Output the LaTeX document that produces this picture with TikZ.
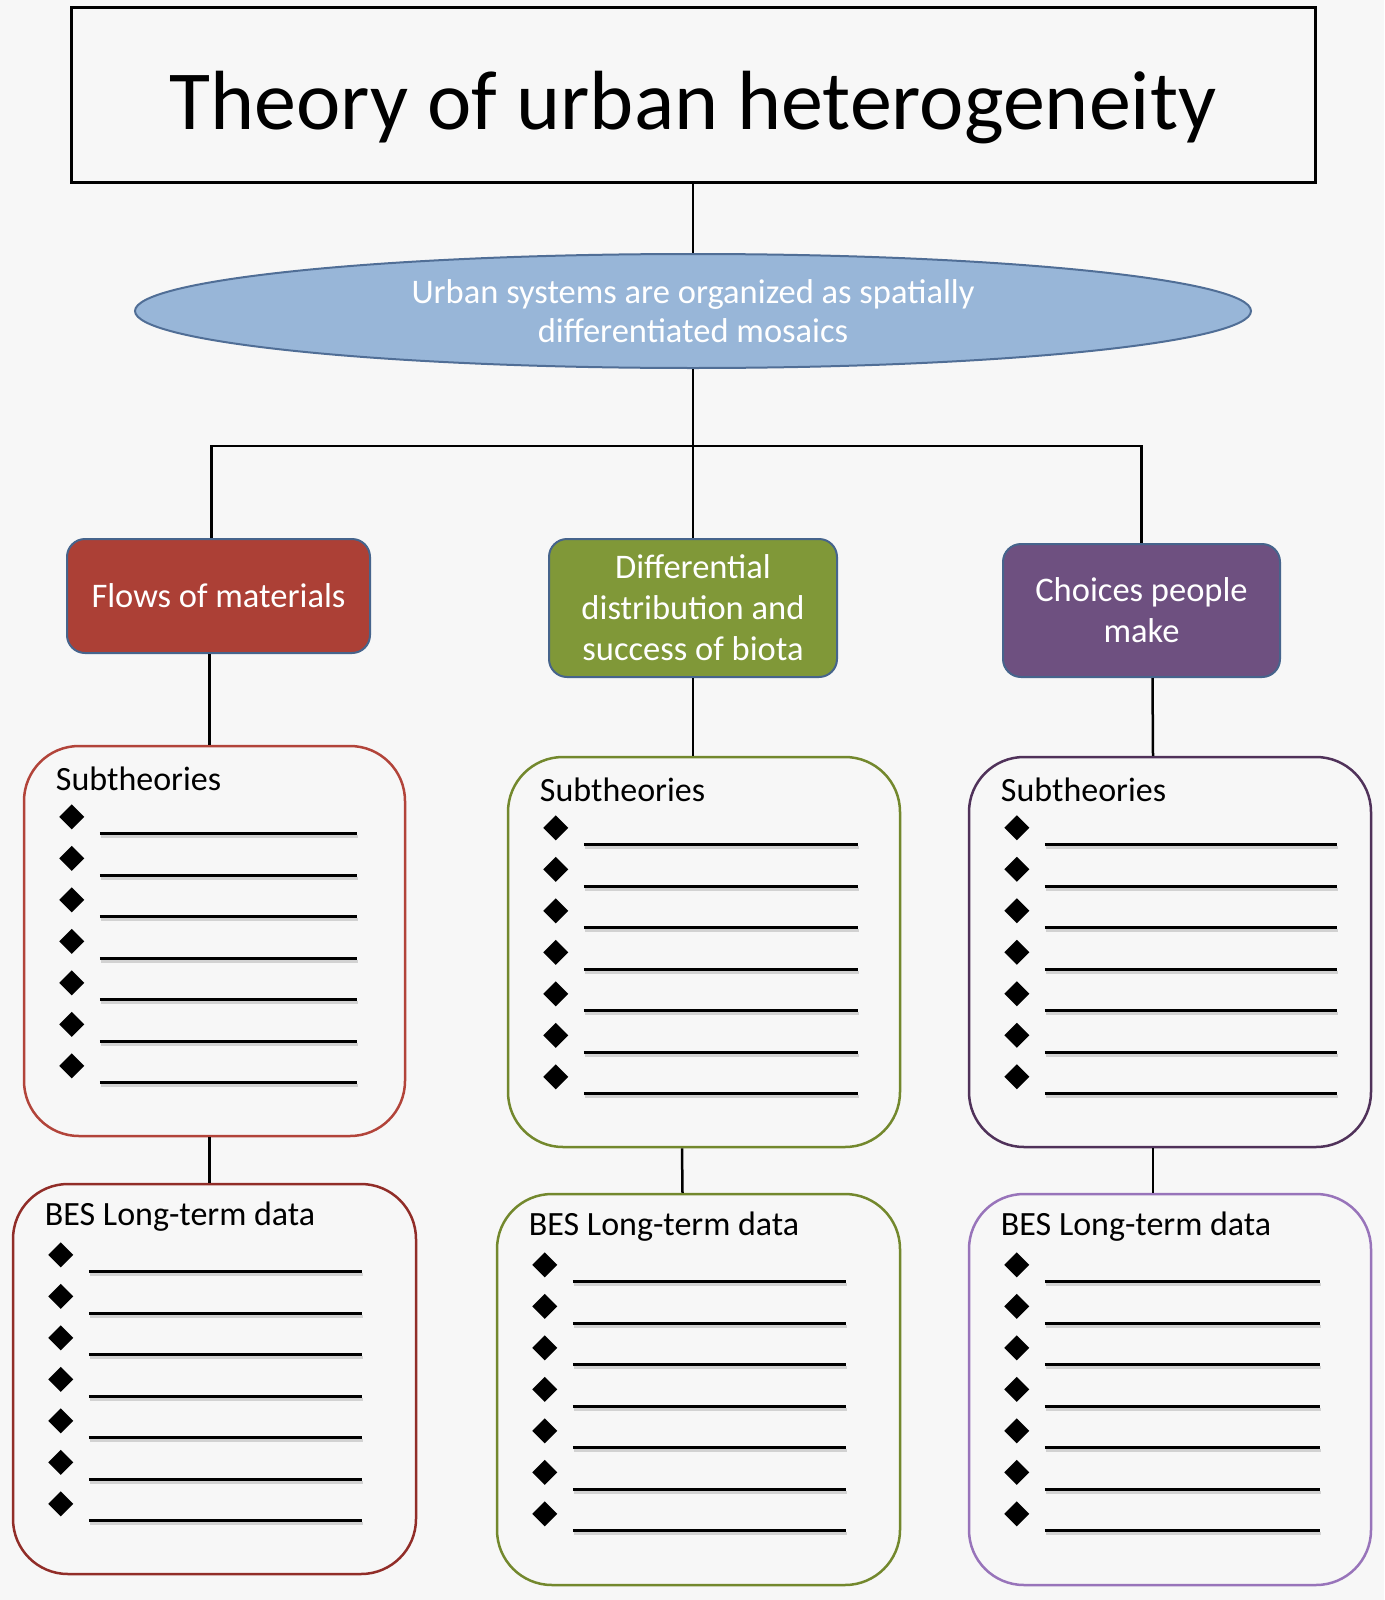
\documentclass[tikz,border=0pt]{standalone}
\usepackage{fontspec}
\setmainfont{Carlito}
\usetikzlibrary{positioning,shapes.geometric}

\definecolor{bgray}{RGB}{247,247,247}
\definecolor{redfill}{RGB}{172,64,54}
\definecolor{greenfill}{RGB}{128,152,56}
\definecolor{purplefill}{RGB}{110,80,128}
\definecolor{ellfill}{RGB}{152,182,216}
\definecolor{ellline}{RGB}{80,110,150}
\definecolor{headline}{RGB}{70,100,140}
\definecolor{redline}{RGB}{178,68,58}
\definecolor{redlinedark}{RGB}{145,45,40}
\definecolor{greenline}{RGB}{115,136,45}
\definecolor{purplelinedark}{RGB}{80,50,90}
\definecolor{purplelinelight}{RGB}{152,116,186}

\begin{document}
\begin{tikzpicture}[
  x=1pt,y=-1pt,
  titlebox/.style={draw,line width=3pt,minimum width=1244,minimum height=174,inner sep=0pt,text height=68pt,text depth=0pt,font=\fontsize{84}{100}\selectfont},
  mosaic/.style={ellipse,draw=ellline,line width=2pt,fill=ellfill,minimum width=1116,minimum height=114,inner sep=0pt,align=center,text=white,font=\fontsize{34.5}{39}\selectfont},
  head/.style={draw=headline,line width=2pt,rounded corners=18pt,inner sep=0pt,align=center,text=white,font=\fontsize{34.5}{41}\selectfont},
  listbox/.style={draw,line width=2.5pt,rounded corners=55pt,fill=bgray,inner sep=0pt},
  listtitle/.style={anchor=west,inner sep=0pt,font=\fontsize{34}{38}\selectfont},
  conn/.style={line width=2.5pt},
  blank/.style={line width=2.6pt}
]
\fill[bgray] (0,0) rectangle (1384,1600);
\useasboundingbox (0,0) rectangle (1384,1600);

\node[titlebox] (theory) at (693,95) {Theory of urban heterogeneity};
\node[mosaic] (mosaics) at (693,311) {Urban systems are organized as spatially\\differentiated mosaics};

\node[head,fill=redfill,minimum width=303,minimum height=114] (flows) at (218.5,596) {Flows of materials};
\node[head,fill=greenfill,minimum width=288,minimum height=138] (biota) at (693,608) {Differential\\distribution and\\success of biota};
\node[head,fill=purplefill,minimum width=277,minimum height=133] (choices) at (1141.5,610.5) {Choices people\\make};

\node[listbox,draw=redline,minimum width=381,minimum height=390] (flowssub) at (214.5,941) {};
\node[listbox,draw=greenline,minimum width=392,minimum height=390] (biotasub) at (704,952) {};
\node[listbox,draw=purplelinedark,minimum width=402,minimum height=390] (choicessub) at (1170,952) {};
\node[listbox,draw=redlinedark,minimum width=403,minimum height=390] (flowsdata) at (214.5,1379) {};
\node[listbox,draw=greenline,minimum width=403,minimum height=391] (biotadata) at (698.5,1389.5) {};
\node[listbox,draw=purplelinelight,minimum width=402,minimum height=391] (choicesdata) at (1170,1389.5) {};

% titles and blanks of the lists
\foreach \b/\t/\len in {flowssub/Subtheories/257, biotasub/Subtheories/274, choicessub/Subtheories/292,
                        flowsdata/BES Long-term data/273, biotadata/BES Long-term data/273, choicesdata/BES Long-term data/275}{
  \node[listtitle] (\b-title) at ([xshift=33,yshift=-34]\b.north west) {\t};
  \begin{scope}[shift={(\b.north west)}]
    \foreach \i in {0,...,6}{
      \fill (49,72+41.5*\i) +(-12.5,0) -- +(0,-12.5) -- +(12.5,0) -- +(0,12.5) -- cycle;
      \draw[blank,gray!35] (78,92+41.5*\i) -- ++(\len,0);
      \draw[blank] (77,89+41.5*\i) -- ++(\len,0);
    }
  \end{scope}
}

% connectors
\draw[conn] (theory) -- (mosaics);
\draw[conn] (mosaics) -- (biota);
\draw[conn] ([xshift=-7]flows.north) |- (mosaics.south |- 0,446) -| (choices.north);
\draw[conn] ([xshift=-9]flows.south) -- ([xshift=-5]flowssub.north);
\draw[conn] (biota.south) -- (biota.south |- biotasub.north);
\draw[conn] ([xshift=11]choices.south) -- ([xshift=-17]choicessub.north);
\draw[conn] ([xshift=-5]flowssub.south) -- ([xshift=-5]flowsdata.north);
\draw[conn] ([xshift=-22]biotasub.south) -- ([xshift=-16]biotadata.north);
\draw[conn] ([xshift=-17]choicessub.south) -- ([xshift=-17]choicesdata.north);
\end{tikzpicture}
\end{document}
